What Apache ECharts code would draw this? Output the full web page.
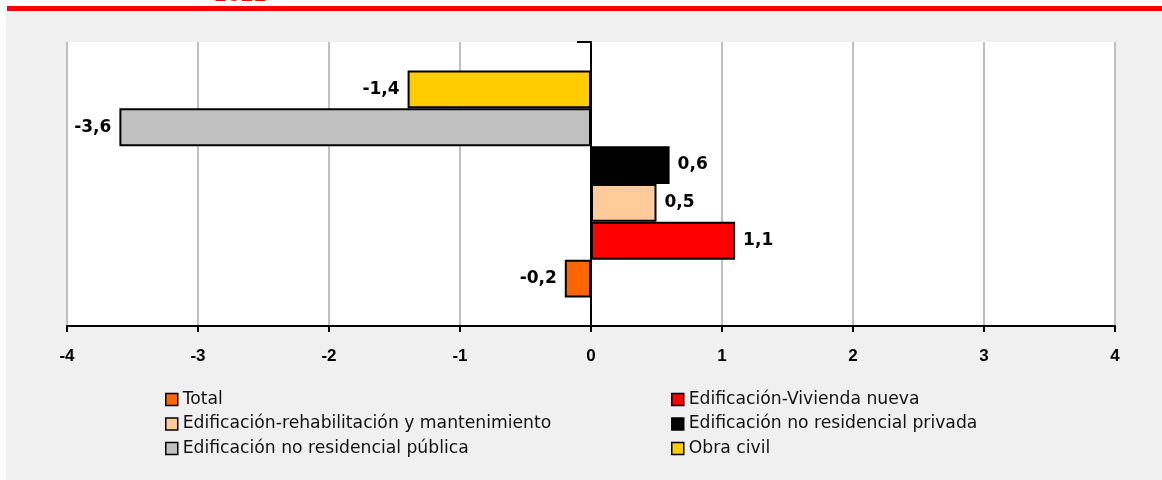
<!DOCTYPE html>
<html>
<head>
<meta charset="utf-8">
<script src="https://cdn.jsdelivr.net/npm/echarts@6/dist/echarts.min.js"></script>
<style>
  html, body { margin: 0; padding: 0; background: #fff; }
  #chart { width: 1162px; height: 480px; }
</style>
</head>
<body>
<div id="chart"></div>
<script>
// Series names, in legend order
const seriesNames = [
  'Total',
  'Edificación-Vivienda nueva',
  'Edificación-rehabilitación y mantenimiento',
  'Edificación no residencial privada',
  'Edificación no residencial pública',
  'Obra civil'
];
// One value per series (percentage points)
const seriesValues = [-0.2, 1.1, 0.5, 0.6, -3.6, -1.4];
const seriesColors = ['#FF6600', '#FF0000', '#FFCC99', '#000000', '#C0C0C0', '#FFCC00'];
const categories = [''];
const xTicks = [-4, -3, -2, -1, 0, 1, 2, 3, 4];

const fmt = v => v.toFixed(1).replace('.', ',');

// Bars are stacked top-down in series order, so feed them last-to-first
// to get "Total" at the bottom of the band.
const series = seriesNames.map((name, i) => ({
  name: name,
  type: 'bar',
  barGap: '0%',
  barCategoryGap: '20%',
  itemStyle: { color: seriesColors[i], borderColor: '#000', borderWidth: 2 },
  label: {
    show: true,
    position: seriesValues[i] < 0 ? 'left' : 'right',
    distance: 8,
    formatter: p => fmt(p.value),
    fontFamily: 'DejaVu Sans',
    fontWeight: 'bold',
    fontSize: 17,
    color: '#000'
  },
  data: [seriesValues[i]]
})).reverse();

const legendText = { fontFamily: 'DejaVu Sans', fontSize: 17.2, color: '#111', lineHeight: 19 };
const legendBase = {
  orient: 'vertical',
  top: 390,
  itemWidth: 12,
  itemHeight: 12,
  itemGap: 5.5,
  icon: 'rect',
  padding: 0,
  selectedMode: false,
  itemStyle: { borderColor: '#000', borderWidth: 1.5 },
  textStyle: legendText
};

const chart = echarts.init(document.getElementById('chart'), null, { renderer: 'canvas' });
chart.setOption({
  backgroundColor: '#fff',
  animation: false,
  graphic: [
    { type: 'rect', shape: { x: 6, y: 11, width: 1156, height: 469 }, style: { fill: '#F0F0F0' }, z: -10 },
    { type: 'rect', shape: { x: 7, y: 6, width: 1155, height: 5 }, style: { fill: '#FF0000' }, z: -5 },
    { type: 'text', x: 214, y: -13, style: { text: '2022', fill: '#FF0000', fontFamily: 'DejaVu Sans', fontWeight: 'bold', fontSize: 19 }, z: 10 }
  ],
  grid: {
    left: 67, right: 47, top: 42, bottom: 154,
    show: true, backgroundColor: '#fff', borderWidth: 0
  },
  legend: [
    Object.assign({}, legendBase, { left: 165, data: [seriesNames[0], seriesNames[2], seriesNames[4]] }),
    Object.assign({}, legendBase, { left: 671, data: [seriesNames[1], seriesNames[3], seriesNames[5]] })
  ],
  xAxis: {
    type: 'value',
    min: xTicks[0],
    max: xTicks[xTicks.length - 1],
    interval: 1,
    axisLine: { show: true, onZero: false, lineStyle: { color: '#000', width: 2 } },
    axisTick: { show: true, length: 6, lineStyle: { color: '#000', width: 2 } },
    splitLine: { show: true, lineStyle: { color: '#C0C0C0', width: 2 } },
    axisLabel: {
      margin: 22,
      fontFamily: '"Liberation Sans Narrow", "Arial Narrow", sans-serif',
      fontWeight: 'bold',
      fontSize: 17,
      color: '#000'
    }
  },
  yAxis: {
    type: 'category',
    data: categories,
    axisLine: { show: true, onZero: true, lineStyle: { color: '#000', width: 2 } },
    axisTick: { show: true, length: 14, lineStyle: { color: '#000', width: 2 } },
    axisLabel: { show: false },
    splitLine: { show: false }
  },
  series: series
});
</script>
</body>
</html>
